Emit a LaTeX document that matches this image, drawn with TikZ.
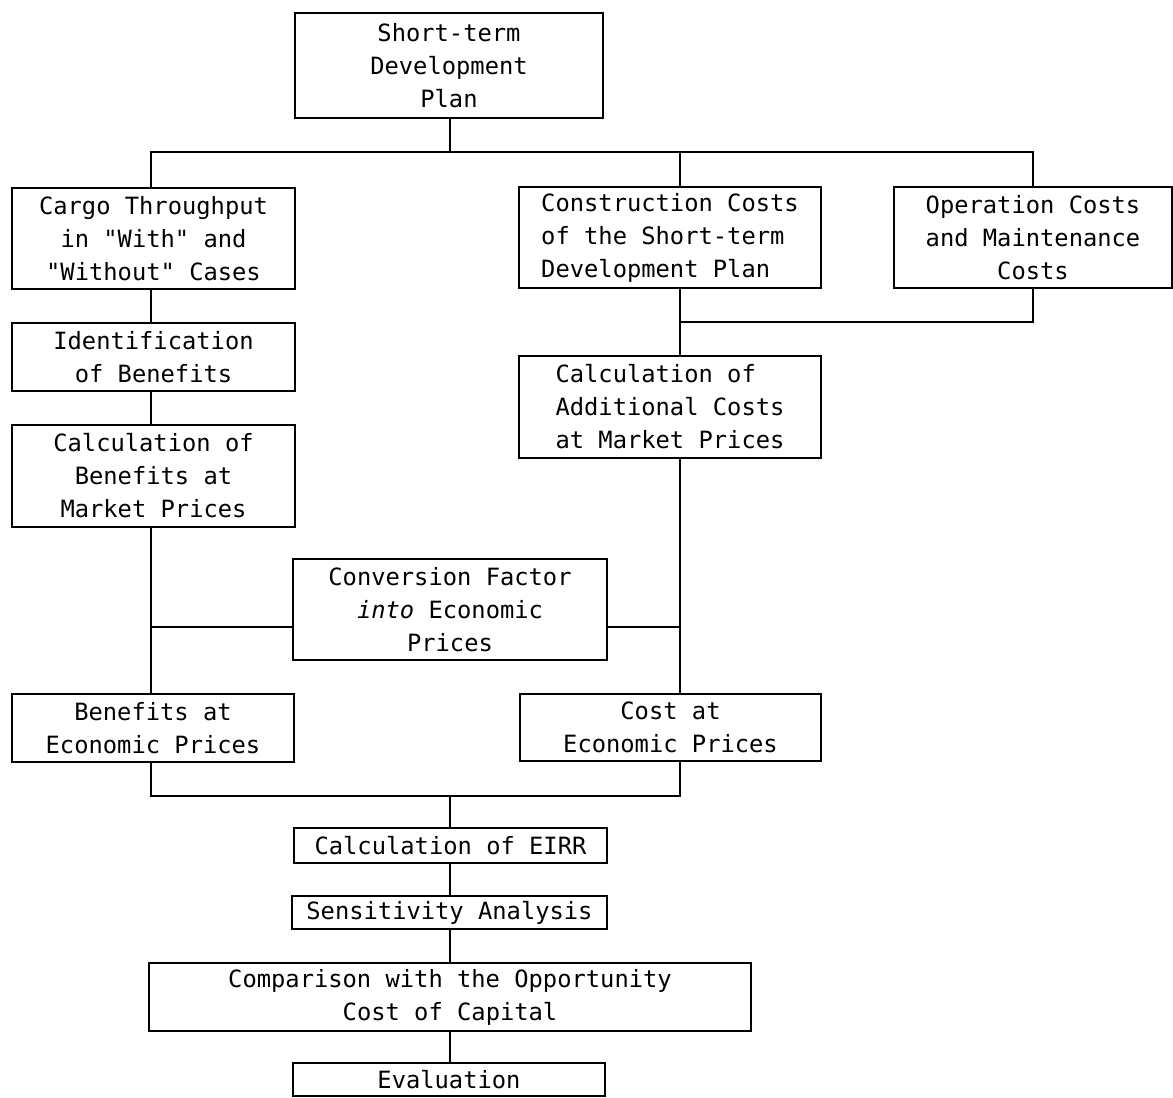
\documentclass[tikz,border=0pt]{standalone}
\usepackage{fontspec}
\setmonofont{DejaVu Sans Mono}
\tikzset{
  box/.style={draw, line width=1pt, inner sep=0pt, align=center,
              font=\ttfamily\fontsize{16.9}{23.5}\selectfont},
  sz/.style 2 args={minimum width=#1*0.025cm, minimum height=#2*0.025cm},
  conn/.style={line width=1pt}
}
\begin{document}
\begin{tikzpicture}[x=0.025cm,y=-0.025cm]
\useasboundingbox (0,0) rectangle (1173,1098);
% column references
\coordinate (lc) at (151,0);
\coordinate (rc) at (680,0);
\coordinate (bus) at (450,152);
\coordinate (join) at (680,322);
\coordinate (convy) at (0,627);
\coordinate (merge) at (450,796);

\node[box, sz={308}{105}] (plan) at (449,65.5) {Short-term\\Development\\Plan};
\node[box, sz={283}{101}] (cargo) at (153.5,238.5) {Cargo Throughput\\in "With" and\\"Without" Cases};
\node[box, sz={302}{101}, align=left] (cons) at (670,237.5) {Construction Costs\\of the Short-term\\Development Plan};
\node[box, sz={278}{101}] (oper) at (1033,237.5) {Operation Costs\\and Maintenance\\Costs};
\node[box, sz={283}{68}] (ident) at (153.5,357) {Identification\\of Benefits};
\node[box, sz={283}{102}] (calb) at (153.5,476) {Calculation of\\Benefits at\\Market Prices};
\node[box, sz={302}{102}, align=left] (addc) at (670,407) {Calculation of\\Additional Costs\\at Market Prices};
\node[box, sz={314}{101}] (conv) at (450,609.5) {Conversion Factor\\\textit{into} Economic\\Prices};
\node[box, sz={282}{68}] (bep) at (153,728) {Benefits at\\Economic Prices};
\node[box, sz={301}{67}] (cep) at (670.5,727.5) {Cost at\\Economic Prices};
\node[box, sz={313}{35}] (eirr) at (450.5,845.5) {Calculation of EIRR};
\node[box, sz={315}{33}] (sens) at (449.5,912.5) {Sensitivity Analysis};
\node[box, sz={602}{68}] (comp) at (450,997) {Comparison with the Opportunity\\Cost of Capital};
\node[box, sz={312}{33}] (eval) at (449,1079.5) {Evaluation};

% top distribution
\draw[conn] (plan.south -| bus) -- (bus);
\draw[conn] (cargo.north -| lc) -- (lc |- bus) -- (oper.north |- bus) -- (oper.north);
\draw[conn] (cons.north -| rc) -- (rc |- bus);
% left column
\draw[conn] (cargo.south -| lc) -- (ident.north -| lc);
\draw[conn] (ident.south -| lc) -- (calb.north -| lc);
\draw[conn] (calb.south -| lc) -- (bep.north -| lc);
% right column
\draw[conn] (cons.south -| rc) -- (addc.north -| rc);
\draw[conn] (oper.south) -- (oper.south |- join) -- (join);
\draw[conn] (addc.south -| rc) -- (cep.north -| rc);
% conversion factor links
\draw[conn] (lc |- convy) -- (conv.west |- convy);
\draw[conn] (conv.east |- convy) -- (rc |- convy);
% merge
\draw[conn] (bep.south -| lc) -- (lc |- merge) -- (rc |- merge) -- (cep.south -| rc);
\draw[conn] (merge) -- (eirr.north -| merge);
\draw[conn] (eirr.south -| merge) -- (sens.north -| merge);
\draw[conn] (sens.south -| merge) -- (comp.north -| merge);
\draw[conn] (comp.south -| merge) -- (eval.north -| merge);
\end{tikzpicture}
\end{document}
